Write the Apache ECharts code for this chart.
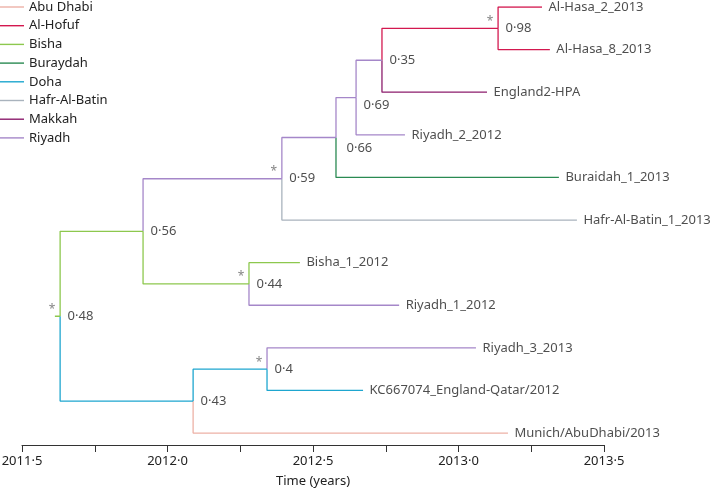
<!DOCTYPE html>
<html>
<head>
<meta charset="utf-8">
<script src="https://cdn.jsdelivr.net/npm/echarts@6/dist/echarts.min.js"></script>
<style>html,body{margin:0;padding:0;background:#fff;}#c{width:714px;height:491px;}</style>
</head>
<body>
<div id="c"></div>
<script>
// ---- data ----
const locations = ['Abu Dhabi','Al-Hofuf','Bisha','Buraydah','Doha','Hafr-Al-Batin','Makkah','Riyadh'];

const leafNames = ['Al-Hasa_2_2013','Al-Hasa_8_2013','England2-HPA','Riyadh_2_2012','Buraidah_1_2013',
  'Hafr-Al-Batin_1_2013','Bisha_1_2012','Riyadh_1_2012','Riyadh_3_2013','KC667074_England-Qatar/2012','Munich/AbuDhabi/2013'];
const leafTimes = [2013.287, 2013.314, 2013.098, 2012.816, 2013.345, 2013.407, 2012.455, 2012.796, 2013.060, 2012.672, 2013.170];
const leafLocations = ['Al-Hofuf','Al-Hofuf','Makkah','Riyadh','Buraydah','Hafr-Al-Batin','Bisha','Riyadh','Riyadh','Doha','Abu Dhabi'];

const nodeIds = ['n098','n035','n069','n066','n059','n044','n056','n040','n043','root'];
const nodeChildren = [
  ['Al-Hasa_2_2013','Al-Hasa_8_2013'],
  ['n098','England2-HPA'],
  ['n035','Riyadh_2_2012'],
  ['n069','Buraidah_1_2013'],
  ['n066','Hafr-Al-Batin_1_2013'],
  ['Bisha_1_2012','Riyadh_1_2012'],
  ['n059','n044'],
  ['Riyadh_3_2013','KC667074_England-Qatar/2012'],
  ['n040','Munich/AbuDhabi/2013'],
  ['n056','n043']
];
const nodeTimes = [2013.136, 2012.737, 2012.648, 2012.579, 2012.393, 2012.280, 2011.916, 2012.342, 2012.088, 2011.631];
const nodePosterior = ['0·98','0·35','0·69','0·66','0·59','0·44','0·56','0·4','0·43','0·48'];
const nodeLocations = ['Al-Hofuf','Riyadh','Riyadh','Riyadh','Riyadh','Bisha','Bisha','Doha','Doha','Bisha'];
const nodeStar = [true,false,false,false,true,true,false,true,false,true];
const rootStemStart = 2011.613;

const axisMin = 2011.5, axisMax = 2013.5, axisStep = 0.25;

// ---- style ----
const locationColors = {
  'Abu Dhabi':'#EDB1A6','Al-Hofuf':'#D3184F','Bisha':'#8DC84E','Buraydah':'#2A8A52',
  'Doha':'#1EA6CF','Hafr-Al-Batin':'#A9B3BD','Makkah':'#8C1C6C','Riyadh':'#A587C9'
};
const labelOffsets = { n066:[3, 11], n069:[0, 8] };
const FONT = '"Noto Sans", "Open Sans", sans-serif';
const TXT = '#222';

// ---- build tree ----
const nodes = {};
leafNames.forEach((n,i)=>{ nodes[n] = {t:leafTimes[i], y:i, loc:leafLocations[i]}; });
nodeIds.forEach((id,i)=>{
  const ch = nodeChildren[i];
  const y = ch.reduce((s,c)=>s+nodes[c].y,0)/ch.length;
  nodes[id] = {t:nodeTimes[i], y:y, loc:nodeLocations[i], children:ch};
  ch.forEach(c=>{ nodes[c].parent = id; });
});

const series = [];
function seg(loc, pts){
  series.push({
    type:'line', name:loc, data:pts, symbol:'none', silent:true, animation:false,
    lineStyle:{color:locationColors[loc], width:1.3}, itemStyle:{color:locationColors[loc]}, z:2
  });
}
Object.keys(nodes).forEach(k=>{
  const n = nodes[k];
  if(!n.parent) return;
  const p = nodes[n.parent];
  seg(n.loc, [[p.t,p.y],[p.t,n.y],[n.t,n.y]]);
});
const root = nodes['root'];
seg(root.loc, [[rootStemStart, root.y],[root.t, root.y]]);

// leaf labels
series.push({
  type:'scatter', silent:true, animation:false, symbolSize:1, itemStyle:{color:'transparent'},
  data: leafNames.map(n=>({value:[nodes[n].t, nodes[n].y], name:n})),
  label:{show:true, position:'right', distance:6, formatter:p=>p.name, color:TXT, fontSize:13, fontFamily:FONT},
  z:3
});
// posterior labels
series.push({
  type:'scatter', silent:true, animation:false, symbolSize:1, itemStyle:{color:'transparent'},
  data: nodeIds.map((id,i)=>({value:[nodes[id].t, nodes[id].y], name:nodePosterior[i],
    label:{offset: labelOffsets[id] || [0,0]}})),
  label:{show:true, position:'right', distance:7, formatter:p=>p.name, color:TXT, fontSize:13, fontFamily:FONT},
  z:3
});
// stars
series.push({
  type:'scatter', silent:true, animation:false, symbolSize:1, itemStyle:{color:'transparent'},
  data: nodeIds.filter((id,i)=>nodeStar[i]).map(id=>({value:[nodes[id].t, nodes[id].y]})),
  label:{show:true, position:'inside', offset:[-8,-7], formatter:'*', color:'#666', fontSize:12, fontFamily:FONT},
  z:3
});

const chart = echarts.init(document.getElementById('c'), null, {renderer:'canvas'});
chart.setOption({
  animation:false,
  backgroundColor:'#fff',
  grid:{left:22, right:110, top:7, bottom:46, containLabel:false, outerBoundsMode:'none'},
  legend:{
    data:locations, orient:'vertical', left:0, top:0, padding:0,
    icon:'rect', itemWidth:24, itemHeight:1.4, itemGap:4.7,
    textStyle:{fontSize:13, color:TXT, fontFamily:FONT, lineHeight:14},
    selectedMode:false
  },
  xAxis:{
    type:'value', min:axisMin, max:axisMax, interval:axisStep, position:'bottom',
    axisLine:{show:true, onZero:false, lineStyle:{color:'#333', width:1}},
    axisTick:{show:true, length:7, lineStyle:{color:'#333'}},
    splitLine:{show:false},
    axisLabel:{
      margin:10, color:TXT, fontSize:13, fontFamily:FONT,
      formatter:v=>{ const d=v*2; return Math.abs(d-Math.round(d))<1e-6 ? v.toFixed(1).replace('.', '·') : ''; }
    },
    name:'Time (years)', nameLocation:'middle', nameGap:30,
    nameTextStyle:{color:TXT, fontSize:13, fontFamily:FONT}
  },
  yAxis:{type:'value', inverse:true, min:0, max:10.28, show:false},
  series:series
});
</script>
</body>
</html>
